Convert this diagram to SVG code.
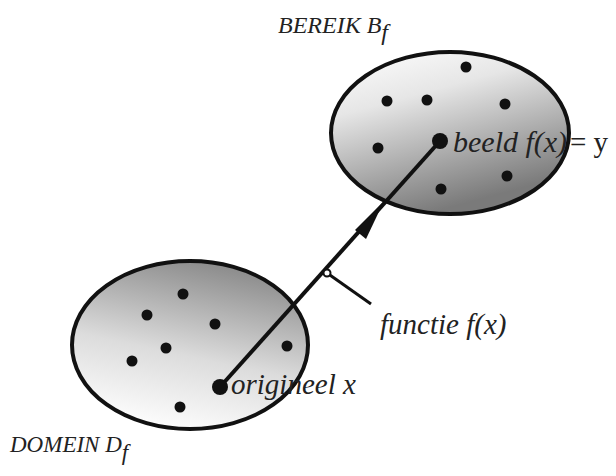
<svg xmlns="http://www.w3.org/2000/svg" width="616" height="476" viewBox="0 0 616 476">
<defs>
<linearGradient id="gTop" x1="0" y1="0" x2="0.4" y2="1">
<stop offset="0" stop-color="#ffffff"/>
<stop offset="0.35" stop-color="#e6e6e6"/>
<stop offset="1" stop-color="#7a7a7a"/>
</linearGradient>
<linearGradient id="gBot" x1="0.6" y1="0" x2="0.3" y2="1">
<stop offset="0" stop-color="#8a8a8a"/>
<stop offset="0.55" stop-color="#dcdcdc"/>
<stop offset="1" stop-color="#ffffff"/>
</linearGradient>
<style>
.set{stroke:#111;stroke-width:4}
.dot{fill:#111}
.lbl{font-family:"Liberation Serif",serif;font-style:italic;fill:#222}
.up{font-family:"Liberation Serif",serif;fill:#222}
</style>
</defs>
<rect width="616" height="476" fill="#fff"/>
<g id="domein">
<ellipse cx="190" cy="345" rx="118" ry="84" fill="url(#gBot)" class="set"/>
<circle class="dot" cx="183" cy="294" r="5.5"/>
<circle class="dot" cx="147" cy="315" r="5.5"/>
<circle class="dot" cx="215" cy="324" r="5.5"/>
<circle class="dot" cx="166" cy="348" r="5.5"/>
<circle class="dot" cx="132" cy="361" r="5.5"/>
<circle class="dot" cx="287" cy="346" r="5.5"/>
<circle class="dot" cx="180" cy="407" r="5.5"/>
<text class="lbl" x="10" y="452" font-size="23">DOMEIN D<tspan dy="8">f</tspan></text>
</g>
<g id="bereik">
<ellipse cx="450" cy="133" rx="119" ry="81" fill="url(#gTop)" class="set"/>
<circle class="dot" cx="466" cy="67" r="5.5"/>
<circle class="dot" cx="387" cy="101" r="5.5"/>
<circle class="dot" cx="427" cy="100" r="5.5"/>
<circle class="dot" cx="505" cy="104" r="5.5"/>
<circle class="dot" cx="378" cy="148" r="5.5"/>
<circle class="dot" cx="507" cy="176" r="5.5"/>
<circle class="dot" cx="441" cy="189" r="5.5"/>
<text class="lbl" x="278" y="33" font-size="24">BEREIK B<tspan dy="7">f</tspan></text>
</g>
<g id="connectors">
<line x1="220" y1="387" x2="440" y2="141" stroke="#111" stroke-width="4"/>
<polygon points="384,201 355,230 366,239" fill="#111"/>
<line x1="327" y1="273" x2="371" y2="304" stroke="#111" stroke-width="3"/>
<circle cx="327" cy="273" r="3.5" fill="#fff" stroke="#111" stroke-width="2"/>
</g>
<g id="origineel">
<circle class="dot" cx="220" cy="387" r="8"/>
<text class="lbl" x="231" y="394" font-size="29">origineel x</text>
</g>
<g id="beeld">
<circle class="dot" cx="440" cy="141" r="8"/>
<text class="lbl" x="453" y="152" font-size="30">beeld f(x)</text>
<text class="up" x="570" y="152" font-size="29">= y</text>
</g>
<g id="functie">
<text class="lbl" x="380" y="334" font-size="29">functie f(x)</text>
</g>
</svg>
